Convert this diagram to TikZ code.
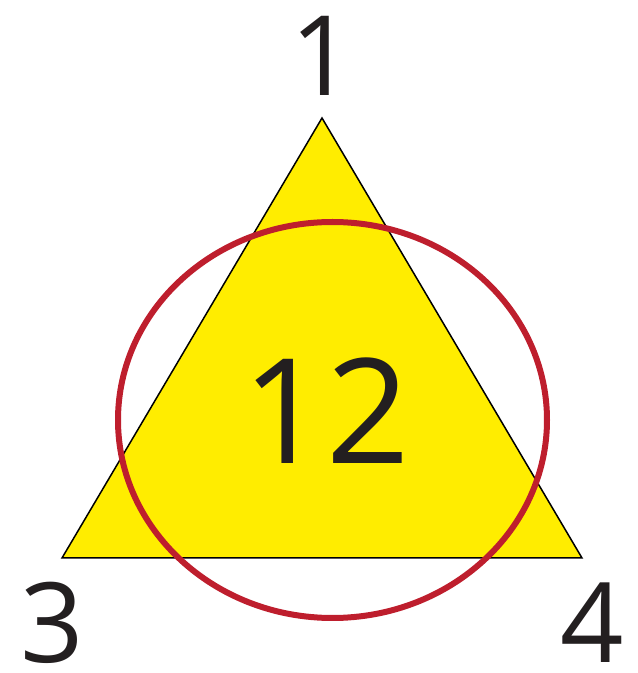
\documentclass[tikz,border=0pt]{standalone}
\usepackage{fontspec}
\setmainfont{Open Sans}
\definecolor{triyellow}{RGB}{255,237,0}
\definecolor{ringred}{RGB}{190,30,45}
\definecolor{inkblack}{RGB}{35,31,32}

\begin{document}
\begin{tikzpicture}[
    x=1pt, y=1pt,
    vlabel/.style={text=inkblack, inner sep=0pt, anchor=base, text depth=0pt, font=\fontsize{111}{111}\selectfont},
    centerlabel/.style={text=inkblack, inner sep=0pt, anchor=base, text depth=0pt, font=\fontsize{146}{146}\selectfont},
    tri/.style={draw=black, line width=1.5pt, fill=triyellow, line join=miter},
    ring/.style={draw=ringred, line width=6pt}
]
\useasboundingbox (0,0) rectangle (638,673);

% Vertices
\coordinate (v1) at (322,555);
\coordinate (v3) at (62,115);
\coordinate (v4) at (582,115);

% Triangle
\draw [tri] (v1) -- (v3) -- (v4) -- cycle;

% Red circle
\draw [ring] (332.5,253) ellipse [x radius=214.5, y radius=198];

% Labels
\node (l1) [vlabel] at (322,577) {1};
\node (l3) [vlabel] at (52,10) {3};
\node (l4) [vlabel] at (592,10) {4};
\node (l12) [centerlabel] at (326,209) {12};

\end{tikzpicture}
\end{document}
